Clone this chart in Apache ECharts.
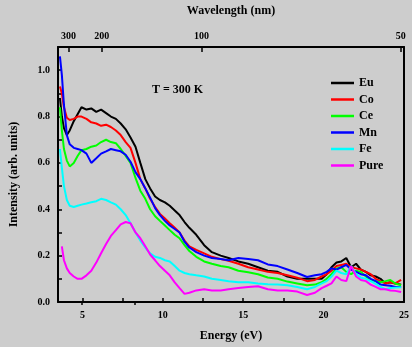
<!DOCTYPE html>
<html>
<head>
<meta charset="utf-8">
<script src="https://cdn.jsdelivr.net/npm/echarts@6/dist/echarts.min.js"></script>
<style>
html, body { margin: 0; padding: 0; background: #cdcdcd; }
#chart { width: 412px; height: 347px; }
</style>
</head>
<body>
<div id="chart"></div>
<script>
var energy = [3.6, 3.72, 3.85, 4.03, 4.21, 4.46, 4.7, 4.94, 5.25, 5.55, 5.86, 6.16, 6.47, 6.77, 7.08, 7.38, 7.69, 7.99, 8.3, 8.6,
  8.91, 9.21, 9.52, 9.82, 10.13, 10.43, 10.74, 11.04, 11.35, 11.65, 12.08, 12.57, 13.05, 13.6, 14.09, 14.7, 15.31, 15.92, 16.53, 17.14,
  17.75, 18.36, 18.97, 19.46, 19.88, 20.19, 20.49, 20.8, 21.1, 21.41, 21.71, 22.02, 22.32, 22.63, 22.93, 23.24, 23.54, 23.85, 24.15, 24.46, 24.82];

var eu = [0.88, 0.8, 0.75, 0.72, 0.74, 0.78, 0.81, 0.84, 0.83, 0.835, 0.82, 0.83, 0.815, 0.8, 0.79, 0.77, 0.745, 0.71, 0.67, 0.6,
  0.53, 0.49, 0.455, 0.44, 0.43, 0.415, 0.395, 0.375, 0.345, 0.32, 0.29, 0.245, 0.215, 0.2, 0.19, 0.175, 0.165, 0.15, 0.135, 0.13,
  0.11, 0.1, 0.1, 0.1, 0.1, 0.12, 0.15, 0.17, 0.175, 0.19, 0.15, 0.165, 0.14, 0.13, 0.115, 0.11, 0.1, 0.08, 0.085, 0.08, 0.075];
var co = [0.93, 0.9, 0.84, 0.795, 0.785, 0.79, 0.8, 0.8, 0.79, 0.775, 0.77, 0.76, 0.765, 0.755, 0.74, 0.72, 0.69, 0.665, 0.6, 0.53,
  0.49, 0.445, 0.41, 0.38, 0.36, 0.34, 0.32, 0.3, 0.265, 0.24, 0.225, 0.21, 0.195, 0.185, 0.178, 0.165, 0.15, 0.14, 0.13, 0.125,
  0.115, 0.105, 0.09, 0.095, 0.11, 0.12, 0.135, 0.155, 0.16, 0.165, 0.15, 0.145, 0.14, 0.13, 0.12, 0.1, 0.09, 0.08, 0.085, 0.08, 0.095];
var ce = [0.84, 0.74, 0.66, 0.61, 0.585, 0.6, 0.63, 0.655, 0.66, 0.67, 0.675, 0.69, 0.7, 0.69, 0.685, 0.66, 0.63, 0.6, 0.535, 0.48,
  0.445, 0.4, 0.37, 0.35, 0.33, 0.31, 0.29, 0.275, 0.245, 0.22, 0.195, 0.175, 0.165, 0.155, 0.15, 0.135, 0.128, 0.12, 0.106, 0.1,
  0.088, 0.08, 0.072, 0.075, 0.085, 0.1, 0.12, 0.145, 0.15, 0.13, 0.12, 0.135, 0.13, 0.11, 0.095, 0.09, 0.085, 0.09, 0.095, 0.08, 0.072];
var mn = [1.06, 0.98, 0.85, 0.72, 0.68, 0.665, 0.66, 0.655, 0.64, 0.6, 0.62, 0.64, 0.65, 0.66, 0.655, 0.65, 0.635, 0.605, 0.56, 0.53,
  0.49, 0.45, 0.405, 0.375, 0.35, 0.33, 0.315, 0.3, 0.26, 0.235, 0.215, 0.2, 0.19, 0.185, 0.18, 0.19, 0.185, 0.18, 0.162, 0.155,
  0.14, 0.125, 0.108, 0.115, 0.12, 0.13, 0.145, 0.14, 0.15, 0.16, 0.14, 0.13, 0.12, 0.115, 0.1, 0.09, 0.075, 0.072, 0.07, 0.065, 0.065];
var fe = [0.66, 0.58, 0.5, 0.44, 0.415, 0.41, 0.415, 0.42, 0.425, 0.43, 0.435, 0.445, 0.44, 0.43, 0.42, 0.4, 0.375, 0.34, 0.3, 0.265,
  0.235, 0.21, 0.195, 0.19, 0.18, 0.175, 0.155, 0.135, 0.125, 0.12, 0.115, 0.11, 0.1, 0.095, 0.09, 0.085, 0.085, 0.08, 0.077, 0.075,
  0.072, 0.065, 0.055, 0.065, 0.08, 0.09, 0.11, 0.135, 0.125, 0.12, 0.155, 0.12, 0.105, 0.1, 0.09, 0.078, 0.065, 0.055, 0.06, 0.062, 0.064];
var pure = [null, 0.24, 0.18, 0.145, 0.125, 0.11, 0.1, 0.1, 0.115, 0.135, 0.17, 0.21, 0.25, 0.285, 0.31, 0.335, 0.345, 0.34, 0.3, 0.275,
  0.24, 0.205, 0.18, 0.155, 0.135, 0.115, 0.085, 0.06, 0.035, 0.04, 0.05, 0.055, 0.05, 0.05, 0.055, 0.06, 0.065, 0.068, 0.055, 0.05,
  0.05, 0.045, 0.03, 0.04, 0.06, 0.07, 0.08, 0.11, 0.095, 0.09, 0.155, 0.11, 0.095, 0.09, 0.075, 0.065, 0.055, 0.055, 0.05, 0.048, 0.043];

var sampleNames = ['Eu', 'Co', 'Ce', 'Mn', 'Fe', 'Pure'];
var sampleColors = ['#000000', '#ff0000', '#00ff00', '#0000ff', '#00ffff', '#ff00ff'];
var sampleValues = [eu, co, ce, mn, fe, pure];

var energyTicks = [5, 7.5, 10, 12.5, 15, 17.5, 20, 22.5, 25];
var energyLabels = [5, 10, 15, 20, 25];
var wavelengthMajor = [300, 200, 100, 50];
var wavelengthMinor = [250, 150];

var xMin = 3.48, xMax = 25;
var font = 'Liberation Serif';

function toEnergy(nm) { return 1240 / nm; }

var chart = echarts.init(document.getElementById('chart'));

var series = sampleNames.map(function (name, k) {
  return {
    name: name,
    type: 'line',
    xAxisIndex: 0,
    yAxisIndex: 0,
    symbol: 'none',
    lineStyle: { color: sampleColors[k], width: 2 },
    itemStyle: { color: sampleColors[k] },
    data: energy.map(function (e, i) { return [e, sampleValues[k][i]]; })
  };
});

var option = {
  backgroundColor: '#cdcdcd',
  animation: false,
  grid: { left: 56, right: 4, top: 46, bottom: 42 },
  title: {
    text: 'T = 300 K',
    left: 147, top: 79,
    textStyle: { fontFamily: font, fontWeight: 'bold', fontSize: 12, color: '#000' }
  },
  legend: {
    orient: 'vertical',
    left: 326, top: 71,
    icon: 'rect',
    itemWidth: 23, itemHeight: 2.5, itemGap: 2.5,
    textStyle: { fontFamily: font, fontWeight: 'bold', fontSize: 12, color: '#000', lineHeight: 14 },
    data: sampleNames
  },
  xAxis: [{
    type: 'value', position: 'bottom', min: xMin, max: xMax,
    name: 'Energy (eV)', nameLocation: 'middle', nameGap: 28,
    nameTextStyle: { fontFamily: font, fontWeight: 'bold', fontSize: 12, color: '#000' },
    axisLine: { onZero: false, lineStyle: { color: '#000', width: 2 } },
    axisTick: { inside: true, length: 4, customValues: energyTicks, lineStyle: { color: '#000', width: 1.5 } },
    axisLabel: { customValues: energyLabels, fontFamily: font, fontWeight: 'bold', fontSize: 10, color: '#000', margin: 8 },
    splitLine: { show: false }
  }, {
    type: 'value', position: 'top', min: xMin, max: xMax,
    name: 'Wavelength (nm)', nameLocation: 'middle', nameGap: 30,
    nameTextStyle: { fontFamily: font, fontWeight: 'bold', fontSize: 12, color: '#000' },
    axisLine: { onZero: false, lineStyle: { color: '#000', width: 2 } },
    axisTick: { inside: true, length: 5, customValues: wavelengthMajor.map(toEnergy), lineStyle: { color: '#000', width: 1.5 } },
    axisLabel: {
      customValues: wavelengthMajor.map(toEnergy),
      formatter: function (v) { return Math.round(1240 / v); },
      fontFamily: font, fontWeight: 'bold', fontSize: 10, color: '#000', margin: 6
    },
    splitLine: { show: false }
  }, {
    type: 'value', position: 'top', min: xMin, max: xMax,
    axisLine: { show: false },
    axisTick: { inside: true, length: 3, customValues: wavelengthMinor.map(toEnergy), lineStyle: { color: '#000', width: 1.5 } },
    axisLabel: { show: false },
    splitLine: { show: false }
  }],
  yAxis: [{
    type: 'value', position: 'left', min: 0, max: 1.1, interval: 0.1,
    name: 'Intensity (arb. units)', nameLocation: 'middle', nameGap: 38,
    nameTextStyle: { fontFamily: font, fontWeight: 'bold', fontSize: 12, color: '#000' },
    axisLine: { show: true, onZero: false, lineStyle: { color: '#000', width: 2 } },
    axisTick: { show: true, inside: true, length: 4, lineStyle: { color: '#000', width: 1.5 } },
    axisLabel: {
      formatter: function (v) { return Math.round(v * 10) % 2 === 0 ? v.toFixed(1) : ''; },
      fontFamily: font, fontWeight: 'bold', fontSize: 10, color: '#000', margin: 8
    },
    splitLine: { show: false }
  }, {
    type: 'value', position: 'right', min: 0, max: 1.1,
    axisLine: { show: true, onZero: false, lineStyle: { color: '#000', width: 2 } },
    axisTick: { show: false },
    axisLabel: { show: false },
    splitLine: { show: false }
  }],
  series: series
};

chart.setOption(option);
</script>
</body>
</html>
